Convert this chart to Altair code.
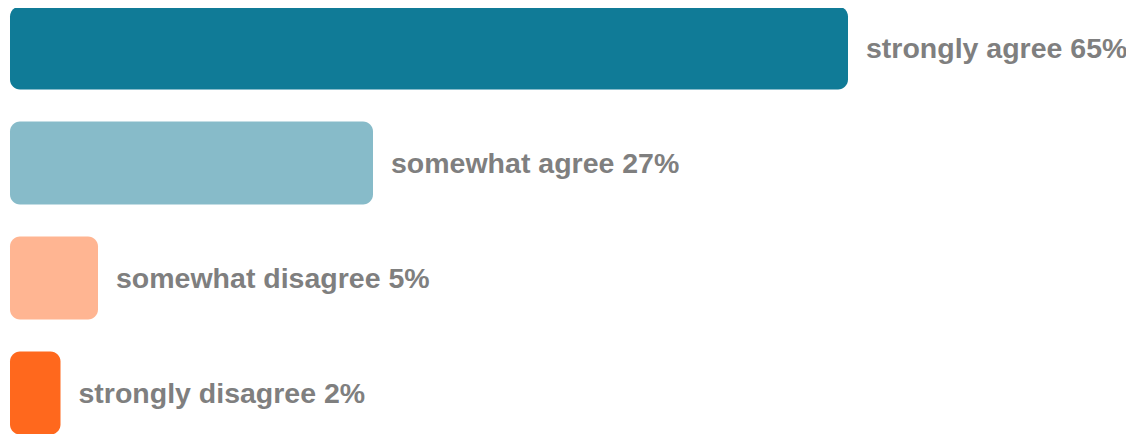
import altair as alt
import pandas as pd

categories = ["strongly agree", "somewhat agree", "somewhat disagree", "strongly disagree"]
values = [65, 27, 5, 2]
colors = ["#107B97", "#87BBC9", "#FFB592", "#FF681D"]

df = pd.DataFrame({
    "category": categories,
    "value": values,
    "start": [-2.04] * len(values),
    "label": [f"{c} {v}%" for c, v in zip(categories, values)],
})

y_enc = alt.Y("category:N", sort=categories, axis=None,
              scale=alt.Scale(range=[-1.5, 426.5], paddingInner=0.278, paddingOuter=0))
x_scale = alt.Scale(domain=[-2.2, 87.24], nice=False, zero=False)

bars = alt.Chart(df).mark_bar(cornerRadius=10).encode(
    x=alt.X("start:Q", scale=x_scale, axis=None),
    x2="value:Q",
    y=y_enc,
    color=alt.Color("category:N", scale=alt.Scale(domain=categories, range=colors), legend=None),
)

labels = alt.Chart(df).mark_text(
    align="left", baseline="middle", dx=18, dy=1,
    font="Liberation Sans", fontWeight="bold", fontSize=28.5, color="#7F7F7F",
).encode(
    x=alt.X("value:Q", scale=x_scale, axis=None),
    y=y_enc,
    text="label:N",
)

chart = (bars + labels).properties(
    width=1118, height=426, padding=0,
    autosize=alt.AutoSizeParams(type="none"),
).configure_view(stroke=None)

chart.save("out.html", embed_options={"renderer": "svg", "actions": False})
